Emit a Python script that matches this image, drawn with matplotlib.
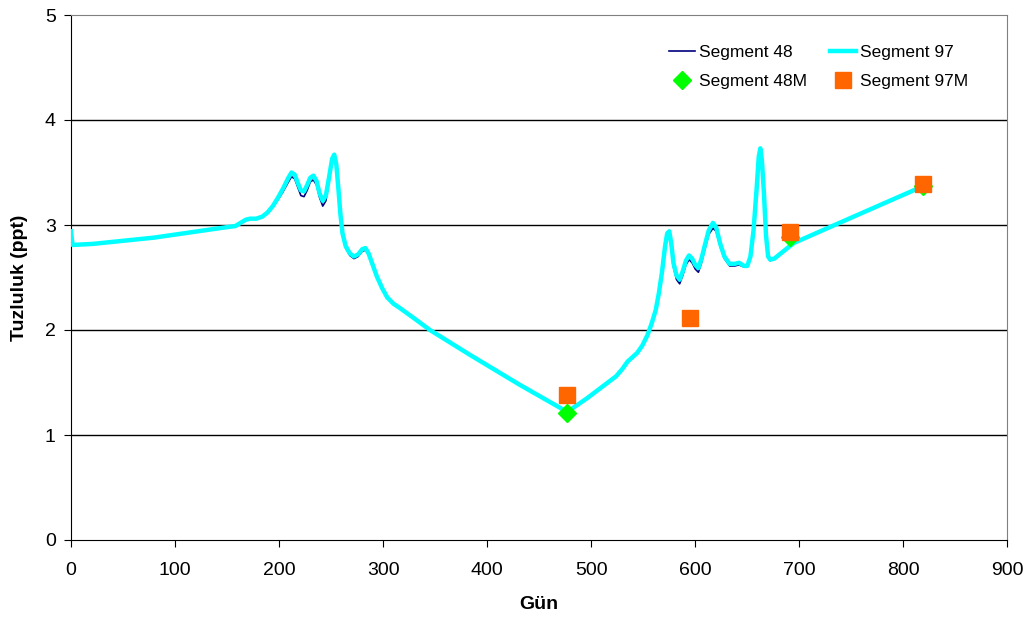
import numpy as np
import matplotlib
matplotlib.use("Agg")
import matplotlib.pyplot as plt

plt.rcParams['font.family'] = ['Liberation Sans', 'DejaVu Sans']

# days (smoothed model curves)
days = [0, 1.6, 21, 80, 143, 158, 163, 168, 172, 178, 184, 189, 194, 199,
        204, 209, 212, 215, 218, 221, 224, 227, 230, 233, 236, 239, 242,
        245, 248, 251, 253, 255, 257, 259, 261, 264, 268, 272, 276, 280,
        283, 286, 290, 294, 299, 304, 310, 316, 330, 345, 384, 431, 477,
        496, 524, 530, 535, 544, 549, 554, 558, 562, 565, 568, 571, 573,
        575, 577, 579, 582, 585, 588, 591, 594, 597, 600, 603, 606, 609,
        613, 617, 620, 624, 628, 633, 638, 642, 647, 650, 653, 656, 659,
        661, 662.5, 664, 666, 668, 670, 672, 676, 691, 695, 750, 819]
seg97 = [2.94, 2.81, 2.82, 2.88, 2.97, 2.99, 3.02, 3.05, 3.06, 3.06, 3.08,
         3.12, 3.18, 3.26, 3.35, 3.45, 3.50, 3.48, 3.40, 3.33, 3.32, 3.38,
         3.45, 3.47, 3.42, 3.30, 3.23, 3.28, 3.45, 3.63, 3.67, 3.58, 3.35,
         3.10, 2.92, 2.80, 2.73, 2.70, 2.72, 2.77, 2.78, 2.73, 2.62, 2.51,
         2.40, 2.31, 2.25, 2.21, 2.11, 2.00, 1.76, 1.48, 1.22, 1.35, 1.56,
         1.63, 1.70, 1.78, 1.85, 1.95, 2.06, 2.19, 2.35, 2.55, 2.80, 2.92,
         2.94, 2.82, 2.64, 2.52, 2.48, 2.56, 2.66, 2.71, 2.68, 2.62, 2.59,
         2.68, 2.80, 2.95, 3.02, 2.98, 2.82, 2.70, 2.63, 2.63, 2.64, 2.61,
         2.61, 2.70, 2.95, 3.35, 3.65, 3.73, 3.62, 3.30, 2.90, 2.70, 2.67,
         2.68, 2.80, 2.83, 3.07, 3.37]
seg48 = [2.94, 2.81, 2.82, 2.88, 2.97, 2.99, 3.02, 3.05, 3.06, 3.06, 3.08,
         3.12, 3.17, 3.24, 3.32, 3.41, 3.46, 3.44, 3.36, 3.28, 3.27, 3.33,
         3.41, 3.43, 3.38, 3.26, 3.18, 3.23, 3.41, 3.59, 3.63, 3.55, 3.33,
         3.08, 2.90, 2.78, 2.71, 2.68, 2.70, 2.75, 2.76, 2.72, 2.61, 2.50,
         2.40, 2.31, 2.25, 2.21, 2.11, 2.00, 1.76, 1.48, 1.22, 1.35, 1.56,
         1.63, 1.70, 1.78, 1.85, 1.95, 2.06, 2.18, 2.33, 2.52, 2.76, 2.88,
         2.90, 2.78, 2.60, 2.48, 2.44, 2.52, 2.62, 2.67, 2.64, 2.58, 2.55,
         2.64, 2.76, 2.91, 2.97, 2.94, 2.79, 2.68, 2.61, 2.61, 2.62, 2.60,
         2.60, 2.69, 2.94, 3.34, 3.64, 3.72, 3.61, 3.29, 2.89, 2.69, 2.66,
         2.68, 2.80, 2.83, 3.07, 3.37]

# measured points
m48_days = [477, 691, 819]
m48_vals = [1.21, 2.89, 3.37]
m97_days = [477, 595, 691, 819]
m97_vals = [1.38, 2.11, 2.93, 3.39]

fig, ax = plt.subplots(figsize=(10.28, 6.25), dpi=100)
fig.subplots_adjust(left=0.069, right=0.98, top=0.976, bottom=0.136)

l48, = ax.plot(days, seg48, color='#000080', lw=1.2, label='Segment 48',
               zorder=3, solid_joinstyle='round')
l97, = ax.plot(days, seg97, color='#00FFFF', lw=3.2, label='Segment 97',
               zorder=4, solid_joinstyle='round')
p48, = ax.plot(m48_days, m48_vals, 'D', color='#00FF00', ms=9, ls='none',
               label='Segment 48M', zorder=5)
p97, = ax.plot(m97_days, m97_vals, 's', color='#FF6600', ms=11, ls='none',
               label='Segment 97M', zorder=6)

ax.set_xlim(0, 900)
ax.set_ylim(0, 5)
ax.set_xticks(np.arange(0, 901, 100))
ax.set_yticks(np.arange(0, 6, 1))
for v in [1, 2, 3, 4]:
    ax.axhline(v, color='black', lw=1.0, zorder=1)

ax.tick_params(axis='both', labelsize=14, direction='out', length=5, width=0.8)
ax.tick_params(axis='x', pad=11)
ax.tick_params(axis='y', pad=6)
ax.spines['top'].set_color('#808080')
ax.spines['right'].set_color('#808080')

ax.set_xlabel('Gün', fontsize=14, fontweight='bold', labelpad=12)
ax.set_ylabel('Tuzluluk (ppt)', fontsize=14, fontweight='bold', labelpad=12)

ax.legend(handles=[l48, p48, l97, p97], ncol=2, frameon=False, fontsize=12.5,
          loc='upper right', bbox_to_anchor=(0.975, 0.972), handlelength=1.5,
          columnspacing=1.3, labelspacing=0.75, handletextpad=0.25)

fig.savefig('out.png', dpi=100)
